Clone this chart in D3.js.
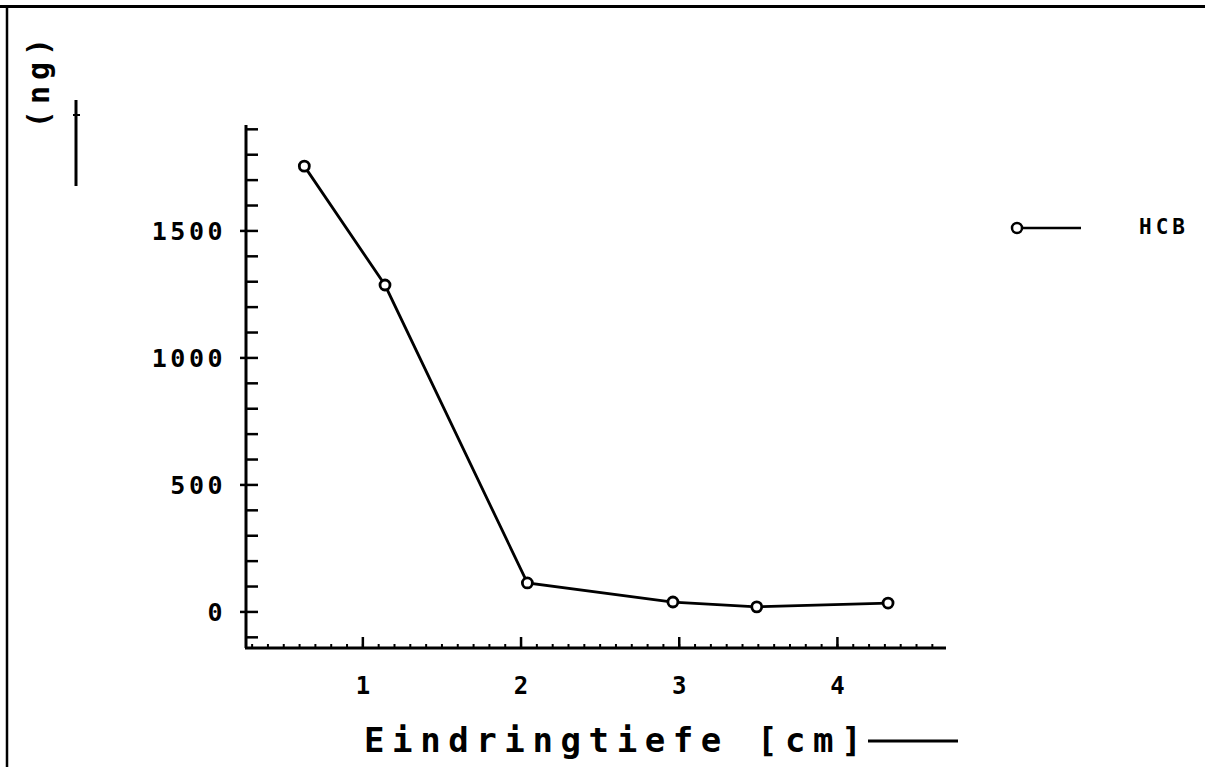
<!DOCTYPE html>
<html>
<head>
<meta charset="utf-8">
<script src="https://cdn.jsdelivr.net/npm/d3@7"></script>
<style>
  html, body { margin: 0; padding: 0; background: #fff; }
  svg { display: block; }
  text { font-family: "DejaVu Sans Mono", "Liberation Mono", monospace; font-weight: bold; fill: #000; }
</style>
</head>
<body>
<svg id="chart" width="1205" height="767"></svg>
<script>
// ---- data ----
const depth = [0.63, 1.14, 2.04, 2.96, 3.49, 4.32];      // Eindringtiefe [cm]
const hcb   = [1755, 1287, 114, 39, 20, 35];             // HCB [ng]
const xTickValues = [1, 2, 3, 4];
const xTickLabels = ["1", "2", "3", "4"];
const yTickValues = [0, 500, 1000, 1500];
const yTickLabels = ["0", "500", "1000", "1500"];
const seriesName = "HCB";
const xTitle = "Eindringtiefe [cm]";
const yTitle = "(ng)";

const svg = d3.select("#chart");

// frame (top & left edges)
svg.append("line").attr("x1", 0).attr("x2", 1205).attr("y1", 6.5).attr("y2", 6.5)
  .attr("stroke", "#000").attr("stroke-width", 3);
svg.append("line").attr("x1", 7).attr("x2", 7).attr("y1", 5).attr("y2", 767)
  .attr("stroke", "#000").attr("stroke-width", 2.5);

// scales
const x = d3.scaleLinear().domain([0.255, 4.68]).range([245, 945]);
const y = d3.scaleLinear().domain([-142, 1917]).range([648, 125]);

// y axis
const yAxis = svg.append("g");
yAxis.append("line").attr("x1", 246).attr("x2", 246).attr("y1", y.range()[1]).attr("y2", y.range()[0])
  .attr("stroke", "#000").attr("stroke-width", 3);
const yMinor = d3.range(-100, 2000, 100);
yAxis.selectAll("line.minor").data(yMinor).enter().append("line")
  .attr("class", "minor")
  .attr("x1", d => yTickValues.includes(d) ? 240 : 246)
  .attr("x2", 258)
  .attr("y1", d => y(d)).attr("y2", d => y(d))
  .attr("stroke", "#000").attr("stroke-width", 2.5);
yAxis.selectAll("text").data(yTickValues).enter().append("text")
  .attr("x", 226).attr("y", d => y(d) + 9)
  .attr("text-anchor", "end")
  .attr("font-size", 25).attr("letter-spacing", 3.5)
  .text((d, i) => yTickLabels[i]);

// x axis
const xAxis = svg.append("g");
xAxis.append("line").attr("x1", 245).attr("x2", 946).attr("y1", 648).attr("y2", 648)
  .attr("stroke", "#000").attr("stroke-width", 3);
const xMinor = d3.range(0.3, 4.68, 0.1);
xAxis.selectAll("line.minor").data(xMinor).enter().append("line")
  .attr("x1", d => x(d)).attr("x2", d => x(d))
  .attr("y1", 648).attr("y2", 644)
  .attr("stroke", "#000").attr("stroke-width", 2);
xAxis.selectAll("line.major").data(xTickValues).enter().append("line")
  .attr("x1", d => x(d)).attr("x2", d => x(d))
  .attr("y1", 648).attr("y2", 637)
  .attr("stroke", "#000").attr("stroke-width", 2.5);
xAxis.selectAll("text").data(xTickValues).enter().append("text")
  .attr("x", d => x(d)).attr("y", 694)
  .attr("text-anchor", "middle")
  .attr("font-size", 24)
  .text((d, i) => xTickLabels[i]);

// series line
const pts = depth.map((d, i) => [d, hcb[i]]);
svg.append("path")
  .datum(pts)
  .attr("fill", "none").attr("stroke", "#000").attr("stroke-width", 2.8)
  .attr("d", d3.line().x(d => x(d[0])).y(d => y(d[1])));
svg.selectAll("circle.pt").data(pts).enter().append("circle")
  .attr("class", "pt")
  .attr("cx", d => x(d[0])).attr("cy", d => y(d[1]))
  .attr("r", 5).attr("fill", "#fff").attr("stroke", "#000").attr("stroke-width", 2.8);

// legend
const lg = svg.append("g");
lg.append("line").attr("x1", 1017).attr("x2", 1081).attr("y1", 228).attr("y2", 228)
  .attr("stroke", "#000").attr("stroke-width", 2.5);
lg.append("circle").attr("cx", 1017).attr("cy", 228).attr("r", 5)
  .attr("fill", "#fff").attr("stroke", "#000").attr("stroke-width", 2.5);
lg.append("text").attr("x", 1139).attr("y", 234)
  .attr("font-size", 21).attr("letter-spacing", 4)
  .text(seriesName);

// x title
svg.append("text").attr("x", 364).attr("y", 752)
  .attr("font-size", 34).attr("letter-spacing", 7.6)
  .text(xTitle);
svg.append("line").attr("x1", 868).attr("x2", 958).attr("y1", 741).attr("y2", 741)
  .attr("stroke", "#000").attr("stroke-width", 3);

// y title (rotated)
svg.append("text")
  .attr("transform", "translate(49,80) rotate(-90)")
  .attr("text-anchor", "middle")
  .attr("font-size", 30).attr("letter-spacing", 6)
  .text(yTitle);
svg.append("line").attr("x1", 76).attr("x2", 76).attr("y1", 100).attr("y2", 186)
  .attr("stroke", "#000").attr("stroke-width", 3);
svg.append("line").attr("x1", 73).attr("x2", 80).attr("y1", 115).attr("y2", 115)
  .attr("stroke", "#000").attr("stroke-width", 2);
</script>
</body>
</html>
